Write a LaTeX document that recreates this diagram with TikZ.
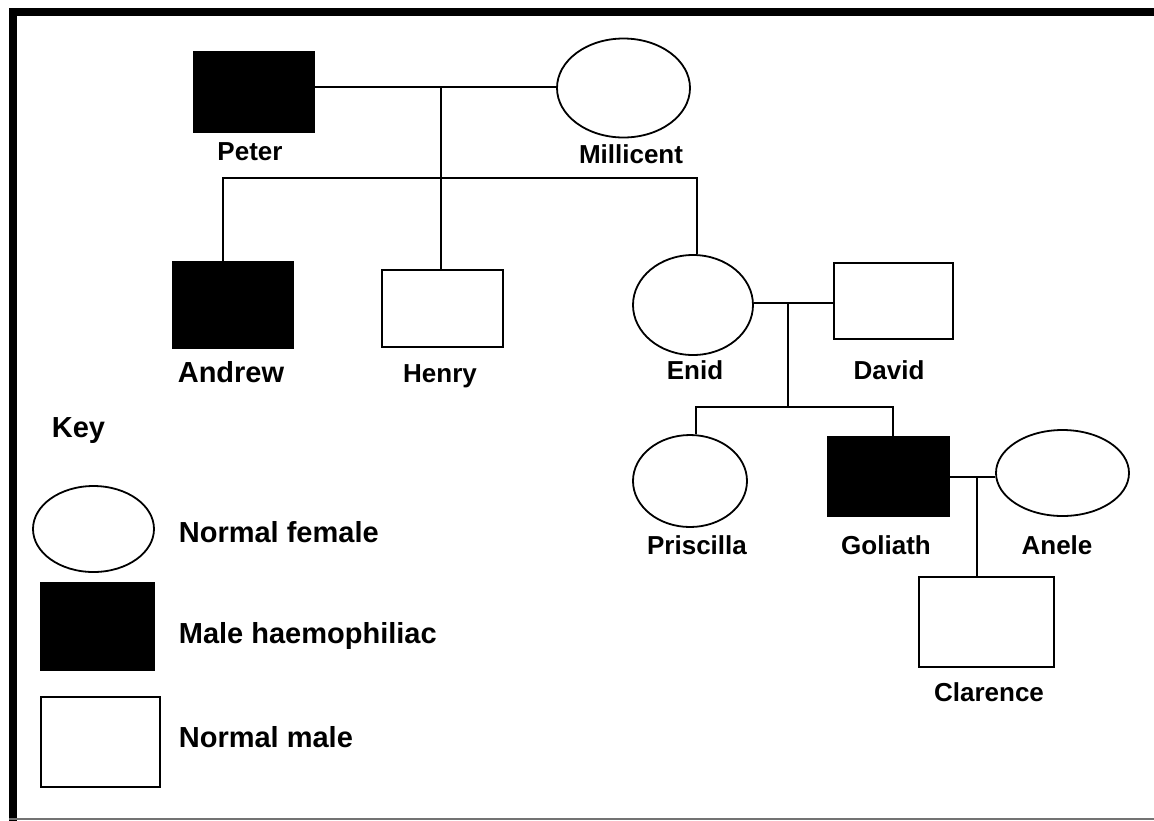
\documentclass[tikz,border=0pt]{standalone}
\usepackage{fontspec}
\setmainfont{Liberation Sans}
\usetikzlibrary{shapes.geometric}

\begin{document}
\begin{tikzpicture}[x=1pt, y=-1pt, line width=1.8pt,
    male/.style={draw, rectangle, inner sep=0pt},
    hmale/.style={male, fill=black},
    female/.style={draw, ellipse, inner sep=0pt},
    lbl/.style={font=\bfseries\fontsize{26}{30}\selectfont, inner sep=0pt, anchor=base},
    keylbl/.style={font=\bfseries\fontsize{29}{34}\selectfont, inner sep=0pt, anchor=base west}]
\useasboundingbox (0,0) rectangle (1154,820);
% frame
\draw[line width=8pt] (1160,11.5) -- (12.5,11.5) -- (12.5,822);
\draw[line width=1.5pt, black!55] (9,819) -- (1154,819);
% first generation
\node[hmale, minimum width=120pt, minimum height=80pt] (peter) at (254,92) {};
\node[female, minimum width=133pt, minimum height=99pt] (millicent) at (623.5,88) {};
\node[lbl] (peterl) at (250,160.5) {Peter};
\node[lbl] (millicentl) at (631,163) {Millicent};
% second generation
\node[hmale, minimum width=120pt, minimum height=86pt] (andrew) at (233,305) {};
\node[male, minimum width=121pt, minimum height=77pt] (henry) at (442.5,308.5) {};
\node[female, minimum width=120pt, minimum height=100pt] (enid) at (693,305) {};
\node[male, minimum width=119pt, minimum height=76pt] (david) at (893.5,301) {};
\node[lbl, font=\bfseries\fontsize{29}{34}\selectfont] (andrewl) at (231,382) {Andrew};
\node[lbl] (henryl) at (440,382) {Henry};
\node[lbl] (enidl) at (695,379) {Enid};
\node[lbl] (davidl) at (889,379) {David};
% third generation
\node[female, minimum width=114pt, minimum height=92pt] (priscilla) at (690,481) {};
\node[hmale, minimum width=121pt, minimum height=79pt] (goliath) at (888.5,476.5) {};
\node[female, minimum width=133pt, minimum height=86pt] (anele) at (1062.5,473) {};
\node[lbl] (priscillal) at (697,554) {Priscilla};
\node[lbl] (goliathl) at (886,554) {Goliath};
\node[lbl] (anelel) at (1057,554) {Anele};
% fourth generation
\node[male, minimum width=135pt, minimum height=90pt] (clarence) at (986.5,622) {};
\node[lbl] (clarencel) at (989,701) {Clarence};
% lines of descent
\coordinate (pm) at (441,87);
\coordinate (ab) at (223,178);
\coordinate (eb) at (697,178);
\draw (peter.east |- pm) -- (millicent.west |- pm);
\draw (pm) -- (henry.north -| pm);
\draw (andrew.north -| ab) -- (ab) -- (eb) -- (enid.north -| eb);
\coordinate (ed) at (788,303);
\coordinate (pb) at (696,407);
\coordinate (gb) at (893,407);
\draw (enid.east |- ed) -- (david.west |- ed);
\draw (ed) -- (ed |- pb);
\draw (priscilla.north -| pb) -- (pb) -- (gb) -- (goliath.north -| gb);
\coordinate (ga) at (977,477);
\draw (goliath.east |- ga) -- (anele.west |- ga);
\draw (ga) -- (clarence.north -| ga);
% key
\node[keylbl] (key) at (51,437) {Key};
\node[female, minimum width=121pt, minimum height=86pt] (kfemale) at (93.5,529) {};
\node[hmale, minimum width=113pt, minimum height=87pt] (khmale) at (97.5,626.5) {};
\node[male, minimum width=119pt, minimum height=90pt] (kmale) at (100.5,742) {};
\node[keylbl] (kfemalel) at (178,542) {Normal female};
\node[keylbl] (khmalel) at (178,643) {Male haemophiliac};
\node[keylbl] (kmalel) at (178,747) {Normal male};
\end{tikzpicture}
\end{document}
